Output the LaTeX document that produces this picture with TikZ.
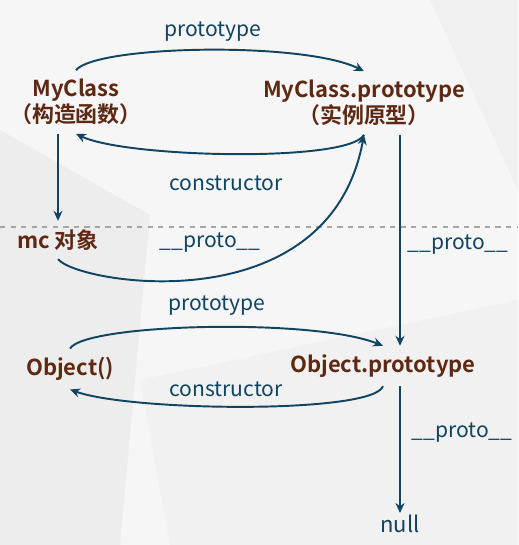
\documentclass[tikz,border=0pt]{standalone}
\usepackage{fontspec}
\setmainfont{Noto Sans CJK SC}[BoldFont={Noto Sans CJK SC Bold}]
\usetikzlibrary{arrows.meta}
\definecolor{linkblue}{HTML}{0F4462}
\definecolor{namebrown}{HTML}{5E2812}
\definecolor{bggrey}{HTML}{F6F6F6}
\definecolor{facegrey}{HTML}{EDEDED}

\begin{document}
\begin{tikzpicture}[x=0.02cm,y=-0.02cm]
\tikzset{
  objnode/.style={font=\bfseries\fontsize{12.5}{15}\selectfont,text=namebrown,align=center,inner sep=3pt,outer sep=2pt},
  linklabel/.style={font=\fontsize{12}{14}\selectfont,text=linkblue,inner sep=1pt},
  link/.style={-{Stealth[length=2mm,width=1.8mm]},draw=linkblue,line width=1.1pt}
}
% background
\fill[bggrey] (0,0) rectangle (518,545);
\fill[facegrey] (0,130) -- (150,215) -- (120,545) -- (0,545) -- cycle;
\fill[facegrey!60!bggrey] (140,380) -- (518,300) -- (518,545) -- (170,545) -- cycle;
\fill[facegrey!70!bggrey] (430,0) -- (518,0) -- (518,190) -- cycle;
\useasboundingbox (0,0) rectangle (518,545);

\node[objnode] (n_myclass) at (76,102) {MyClass\\（构造函数）};
\node[objnode] (n_myproto) at (364,103) {MyClass.prototype\\（实例原型）};
\node[objnode] (n_mc) at (58,240) {mc 对象};
\node[objnode] (n_object) at (70,369) {Object()};
\node[objnode] (n_objproto) at (383,366) {Object.prototype};
\node[linklabel,font=\fontsize{12.5}{15}\selectfont] (n_null) at (400,524) {null};

\draw[gray!70,dashed,line width=0.6pt] (0,227) -- (518,227);

% MyClass and its prototype
\draw[link] (n_myclass.north) .. controls +(20,-25) and +(-60,-30) .. (n_myproto.north);
\node[linklabel] (n_proto0) at (213,32) {prototype};
\draw[link] (n_myproto.south) .. controls +(-15,28) and +(50,24) .. (n_myclass.south);
\node[linklabel] (n_ctor1) at (226,183) {constructor};
\draw[link] (n_myclass.south -| n_mc) -- (n_mc.north);
\draw[link] (n_mc.south) .. controls +(20,25) and +(-35,190) .. (n_myproto.south);
\node[linklabel] (n_proto1) at (210,243) {\_\_proto\_\_};
\draw[link] (n_myproto.south -| n_null) -- (n_objproto.north -| n_null);
\node[linklabel] (n_proto2) at (458,245) {\_\_proto\_\_};

% Object and its prototype
\draw[link] (n_object.north) .. controls +(15,-25) and +(-70,-28) .. (n_objproto.north);
\node[linklabel] (n_proto3) at (217,306) {prototype};
\draw[link] (n_objproto.south) .. controls +(-10,28) and +(60,22) .. (n_object.south);
\node[linklabel] (n_ctor2) at (226,389) {constructor};
\draw[link] (n_objproto.south -| n_null) -- (n_null.north);
\node[linklabel] (n_proto4) at (462,433) {\_\_proto\_\_};
\end{tikzpicture}
\end{document}
